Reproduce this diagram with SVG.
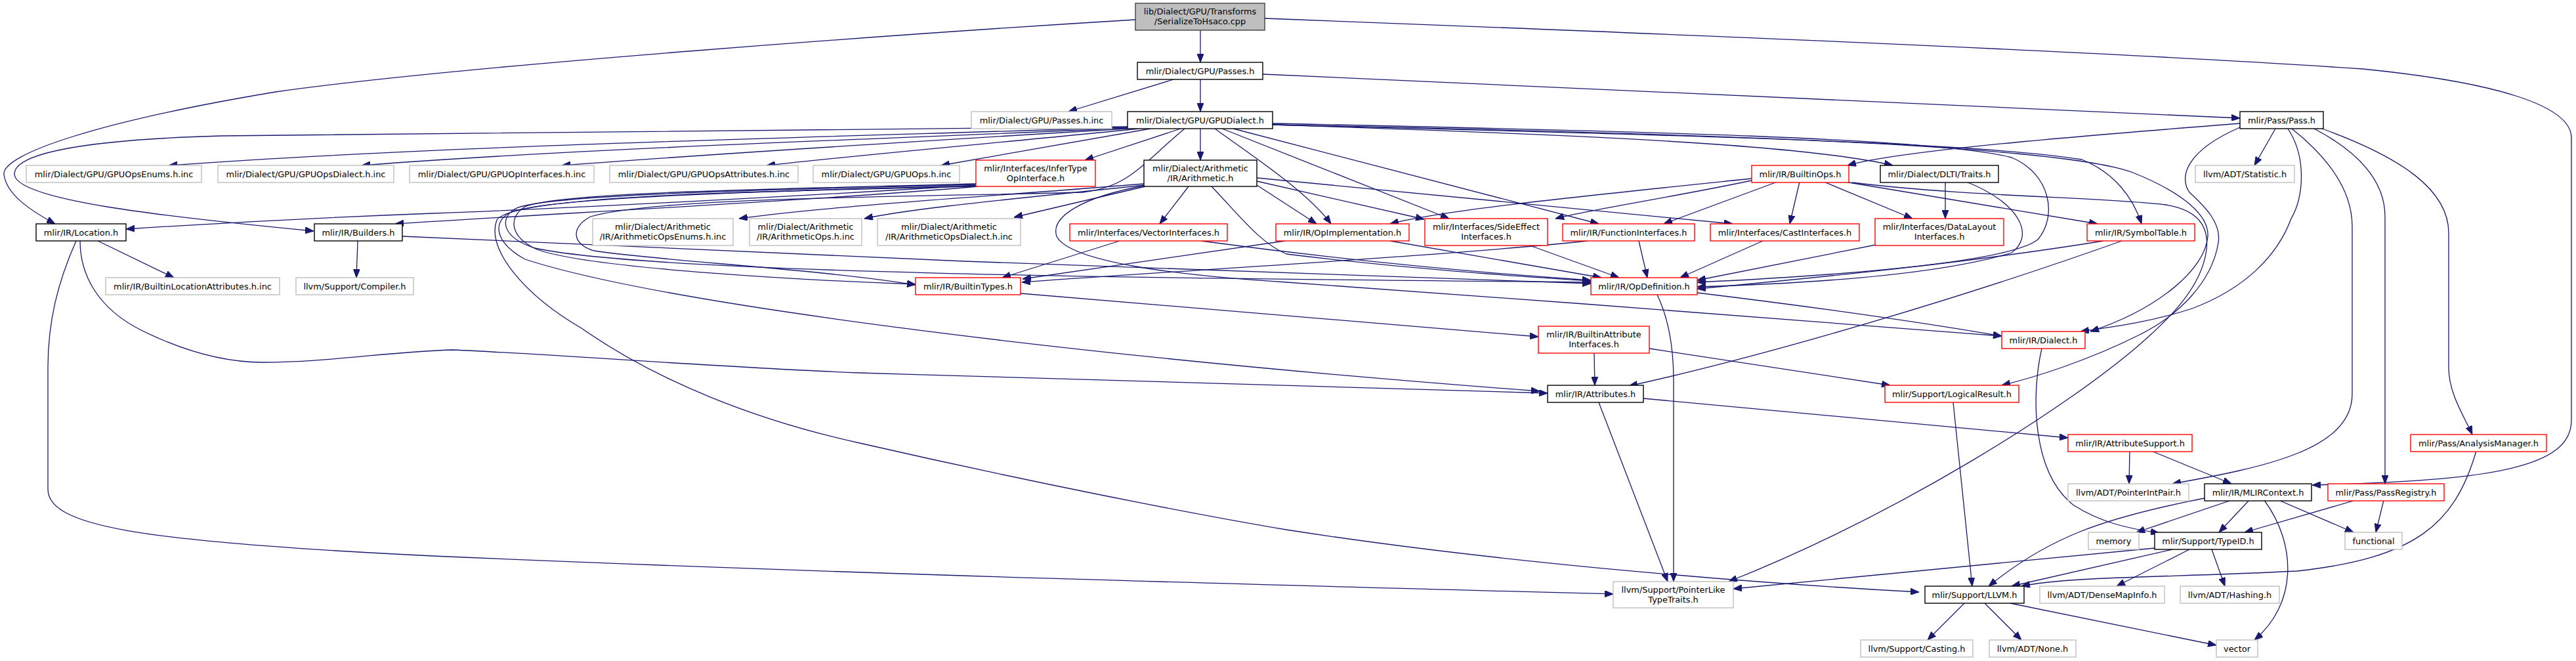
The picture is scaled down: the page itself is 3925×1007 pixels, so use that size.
<svg xmlns="http://www.w3.org/2000/svg" width="3925" height="1007" viewBox="0 0 3925 1007">
<style>
rect{fill:#fff;stroke-width:1.4}
.nb{stroke:#000}
.nr{stroke:#ff0000}
.ng{stroke:#bfbfbf}
.root{fill:#bfbfbf;stroke:#404040}
text{font-family:"DejaVu Sans","Liberation Sans",sans-serif;font-size:12.9px;fill:#000;text-anchor:middle}
.e path{fill:none;stroke:#191970;stroke-width:1.3;marker-end:url(#a)}
</style>
<defs>
<marker id="a" viewBox="0 0 13 10" refX="13" refY="5" markerWidth="13" markerHeight="10" markerUnits="userSpaceOnUse" orient="auto"><path d="M0,0 L13,5 L0,10 z" fill="#191970" stroke="#191970"/></marker>
</defs>
<rect x="0" y="0" width="3925" height="1007" style="fill:#fff;stroke:none"/>
<g class="e" id="connectors">
<path d="M1829,46 L1829,95"/>
<path d="M1730,30 C1400,50 700,100 420,140 C150,185 2,235 6,266 C10,296 45,320 84,341"/>
<path d="M1927,28 C2500,50 3200,78 3600,105 C3800,125 3918,160 3918,210 L3918,640 C3918,712 3800,732 3523,739"/>
<path d="M1788,121 L1628,170"/>
<path d="M1829,121 L1829,170"/>
<path d="M1924,113 L3413,180"/>
<path d="M1718,194 C1300,208 700,220 257,252"/>
<path d="M1718,195 C1350,212 900,225 551,252"/>
<path d="M1718,196 C1450,212 1150,230 856,252"/>
<path d="M1735,196 C1550,215 1350,232 1168,252"/>
<path d="M1753,196 L1434,252"/>
<path d="M1799,196 L1653,244"/>
<path d="M1829,196 L1829,244"/>
<path d="M1718,193 C1200,197 700,200 337,207 C120,213 22,235 22,265 C22,305 250,330 478,352"/>
<path d="M1939,190 C2400,205 2750,220 2884,252"/>
<path d="M1805,196 C1740,250 1720,285 1650,293 C1400,300 1000,300 900,330 C870,345 870,372 905,382 C1000,397 1250,410 1395,434"/>
<path d="M1939,190 C2700,205 3150,225 3250,263 C3330,295 3366,330 3364,360 C3360,410 3290,470 3185,505"/>
<path d="M1879,196 L2436,341"/>
<path d="M1939,188 C2500,200 2950,210 3065,240 C3125,265 3135,330 3105,365 C3060,400 2800,420 2586,430"/>
<path d="M1851,196 C1900,232 1990,290 2028,341"/>
<path d="M1939,190 C2500,205 3000,215 3172,243 C3220,262 3250,300 3263,341"/>
<path d="M1862,196 L2208,333"/>
<path d="M3413,188 C3200,205 2900,228 2815,252"/>
<path d="M3467,196 L3435,252"/>
<path d="M3486,196 C3515,240 3510,300 3491,333 C3470,390 3420,440 3340,470 C3280,490 3220,498 3170,505"/>
<path d="M3413,194 C3330,230 3320,270 3336,293 C3360,315 3385,340 3380,370 C3370,430 3320,480 3260,510 C3180,550 3100,575 3050,587"/>
<path d="M3492,196 C3560,250 3584,300 3584,345 L3584,600 C3584,685 3450,712 3310,737"/>
<path d="M3526,196 C3600,235 3634,280 3634,330 L3634,737"/>
<path d="M3538,196 C3660,240 3731,290 3731,355 L3731,560 C3731,600 3755,635 3767,662"/>
<path d="M2669,272 C2400,300 2200,320 2118,341"/>
<path d="M2669,275 C2550,300 2420,320 2370,333"/>
<path d="M2708,277 L2535,341"/>
<path d="M2742,277 L2727,341"/>
<path d="M2779,277 L2914,333"/>
<path d="M2811,277 L3196,341"/>
<path d="M2822,278 C3000,300 3200,300 3300,312 C3350,320 3366,345 3362,380 C3355,440 3300,490 3260,525 C3150,620 2900,780 2634,886"/>
<path d="M2964,277 L2964,333"/>
<path d="M2996,277 C3080,310 3100,360 3065,385 C2950,420 2750,432 2586,437"/>
<path d="M149,367 L265,423"/>
<path d="M116,367 C88,430 73,490 73,560 L73,745 C73,800 200,825 660,847 C1300,875 2000,893 2458,905"/>
<path d="M122,367 C122,420 150,470 215,503 C280,535 340,552 400,552 C500,552 600,535 690,533 C850,540 1100,560 1310,568 C1700,580 2100,592 2358,599"/>
<path d="M545,367 L543,423"/>
<path d="M613,360 C1100,385 2000,420 2424,432"/>
<path d="M1490,282 C1200,300 850,318 660,325 C450,333 300,342 192,349"/>
<path d="M1490,284 C1250,305 850,325 602,341"/>
<path d="M1487,280 C1200,288 850,292 800,315 C775,330 775,360 818,380 C900,410 1250,428 1395,433"/>
<path d="M1487,281 C1200,289 830,295 785,318 C760,333 765,362 815,378 C1000,418 1800,424 2424,430"/>
<path d="M1487,283 C1200,290 820,300 775,325 C750,340 755,370 800,395 C1000,460 1600,540 2346,596"/>
<path d="M1487,284 C1100,292 780,300 757,335 C740,380 800,450 886,500 C1000,580 1150,640 1310,675 C1550,730 1800,780 1960,807 C2300,860 2700,890 2924,902"/>
<path d="M1743,280 C1500,300 1250,315 1126,333"/>
<path d="M1743,282 C1600,298 1400,315 1317,333"/>
<path d="M1745,284 L1545,331"/>
<path d="M1811,284 L1767,341"/>
<path d="M1915,282 L2006,341"/>
<path d="M1915,276 L2170,334"/>
<path d="M1915,271 L2640,341"/>
<path d="M1846,284 C1890,330 1920,370 1960,387 C2150,410 2300,420 2424,428"/>
<path d="M1743,283 C1650,300 1600,330 1610,360 C1630,400 1800,420 1960,430 C2300,455 2800,490 3050,512"/>
<path d="M1706,367 L1527,423"/>
<path d="M1830,367 C2000,390 2200,412 2424,427"/>
<path d="M2118,367 L2440,423"/>
<path d="M1958,367 L1558,425"/>
<path d="M2331,374 L2467,423"/>
<path d="M2419,367 C2200,390 1800,412 1557,430"/>
<path d="M2497,367 L2510,423"/>
<path d="M2686,367 L2560,423"/>
<path d="M2863,372 L2586,427"/>
<path d="M3205,367 C3000,400 2800,420 2586,440"/>
<path d="M3233,367 C3000,450 2700,540 2482,588"/>
<path d="M1555,447 L2344,513"/>
<path d="M2429,538 L2430,587"/>
<path d="M2513,531 L2880,587"/>
<path d="M2525,449 C2540,480 2550,520 2550,580 L2550,886"/>
<path d="M2586,446 C2800,472 2950,495 3050,512"/>
<path d="M3111,531 C3095,600 3095,720 3160,770 C3200,795 3240,805 3290,812"/>
<path d="M2504,607 L3151,667"/>
<path d="M2436,613 L2541,886"/>
<path d="M2976,613 L3005,893"/>
<path d="M3245,687 L3244,737"/>
<path d="M3278,687 L3400,737"/>
<path d="M3773,687 C3740,800 3680,850 3500,870 C3300,880 3150,878 3080,893"/>
<path d="M3400,762 L3255,811"/>
<path d="M3427,762 L3381,811"/>
<path d="M3472,762 L3586,811"/>
<path d="M3450,762 C3500,830 3500,920 3435,975"/>
<path d="M3359,759 C3200,790 3120,820 3030,893"/>
<path d="M3589,762 L3420,811"/>
<path d="M3632,762 L3620,811"/>
<path d="M3310,837 L3065,893"/>
<path d="M3336,837 L3225,893"/>
<path d="M3370,837 L3390,893"/>
<path d="M3283,835 L2641,897"/>
<path d="M2994,918 L2937,975"/>
<path d="M3023,918 L3080,975"/>
<path d="M3063,919 L3377,983"/>
</g>
<g id="root"><rect class="root" x="1730" y="5" width="197" height="41"/><text x="1828.5" y="22">lib/Dialect/GPU/Transforms</text><text x="1828.5" y="37">/SerializeToHsaco.cpp</text></g>
<g id="gpupasses"><rect class="nb" x="1733" y="95" width="191" height="26"/><text x="1828.5" y="112.5">mlir/Dialect/GPU/Passes.h</text></g>
<g id="passesinc"><rect class="ng" x="1480" y="170" width="214" height="26"/><text x="1587" y="187.5">mlir/Dialect/GPU/Passes.h.inc</text></g>
<g id="gpudialect"><rect class="nb" x="1718" y="170" width="221" height="26"/><text x="1828.5" y="187.5">mlir/Dialect/GPU/GPUDialect.h</text></g>
<g id="pass"><rect class="nb" x="3413" y="170" width="127" height="26"/><text x="3476.5" y="187.5">mlir/Pass/Pass.h</text></g>
<g id="enums"><rect class="ng" x="40" y="252" width="267" height="26"/><text x="173.5" y="269.5">mlir/Dialect/GPU/GPUOpsEnums.h.inc</text></g>
<g id="opsdialect"><rect class="ng" x="332" y="252" width="268" height="26"/><text x="466" y="269.5">mlir/Dialect/GPU/GPUOpsDialect.h.inc</text></g>
<g id="opinterfaces"><rect class="ng" x="624" y="252" width="281" height="26"/><text x="764.5" y="269.5">mlir/Dialect/GPU/GPUOpInterfaces.h.inc</text></g>
<g id="opsattrs"><rect class="ng" x="929" y="252" width="287" height="26"/><text x="1072.5" y="269.5">mlir/Dialect/GPU/GPUOpsAttributes.h.inc</text></g>
<g id="gpuops"><rect class="ng" x="1239" y="252" width="223" height="26"/><text x="1350.5" y="269.5">mlir/Dialect/GPU/GPUOps.h.inc</text></g>
<g id="infer"><rect class="nr" x="1487" y="244" width="182" height="40"/><text x="1578" y="261">mlir/Interfaces/InferType</text><text x="1578" y="276">OpInterface.h</text></g>
<g id="arith"><rect class="nb" x="1743" y="244" width="172" height="40"/><text x="1829" y="261">mlir/Dialect/Arithmetic</text><text x="1829" y="276">/IR/Arithmetic.h</text></g>
<g id="builtinops"><rect class="nr" x="2669" y="252" width="148" height="26"/><text x="2743" y="269.5">mlir/IR/BuiltinOps.h</text></g>
<g id="dlti"><rect class="nb" x="2865" y="252" width="180" height="26"/><text x="2955" y="269.5">mlir/Dialect/DLTI/Traits.h</text></g>
<g id="statistic"><rect class="ng" x="3345" y="252" width="151" height="26"/><text x="3420.5" y="269.5">llvm/ADT/Statistic.h</text></g>
<g id="location"><rect class="nb" x="55" y="341" width="137" height="26"/><text x="123.5" y="358.5">mlir/IR/Location.h</text></g>
<g id="builders"><rect class="nb" x="479" y="341" width="134" height="26"/><text x="546" y="358.5">mlir/IR/Builders.h</text></g>
<g id="arithenums"><rect class="ng" x="903" y="333" width="214" height="41"/><text x="1010" y="350">mlir/Dialect/Arithmetic</text><text x="1010" y="365">/IR/ArithmeticOpsEnums.h.inc</text></g>
<g id="arithops"><rect class="ng" x="1142" y="333" width="171" height="41"/><text x="1227.5" y="350">mlir/Dialect/Arithmetic</text><text x="1227.5" y="365">/IR/ArithmeticOps.h.inc</text></g>
<g id="arithdialect"><rect class="ng" x="1337" y="333" width="218" height="41"/><text x="1446" y="350">mlir/Dialect/Arithmetic</text><text x="1446" y="365">/IR/ArithmeticOpsDialect.h.inc</text></g>
<g id="vectorif"><rect class="nr" x="1630" y="341" width="240" height="26"/><text x="1750" y="358.5">mlir/Interfaces/VectorInterfaces.h</text></g>
<g id="opimpl"><rect class="nr" x="1944" y="341" width="203" height="26"/><text x="2045.5" y="358.5">mlir/IR/OpImplementation.h</text></g>
<g id="sideeffect"><rect class="nr" x="2171" y="333" width="187" height="41"/><text x="2264.5" y="350">mlir/Interfaces/SideEffect</text><text x="2264.5" y="365">Interfaces.h</text></g>
<g id="funcif"><rect class="nr" x="2381" y="341" width="201" height="26"/><text x="2481.5" y="358.5">mlir/IR/FunctionInterfaces.h</text></g>
<g id="cast"><rect class="nr" x="2606" y="341" width="227" height="26"/><text x="2719.5" y="358.5">mlir/Interfaces/CastInterfaces.h</text></g>
<g id="datalayout"><rect class="nr" x="2857" y="333" width="196" height="41"/><text x="2955" y="350">mlir/Interfaces/DataLayout</text><text x="2955" y="365">Interfaces.h</text></g>
<g id="symtab"><rect class="nr" x="3180" y="341" width="164" height="26"/><text x="3262" y="358.5">mlir/IR/SymbolTable.h</text></g>
<g id="locattrs"><rect class="ng" x="161" y="423" width="265" height="26"/><text x="293.5" y="440.5">mlir/IR/BuiltinLocationAttributes.h.inc</text></g>
<g id="compiler"><rect class="ng" x="451" y="423" width="179" height="26"/><text x="540.5" y="440.5">llvm/Support/Compiler.h</text></g>
<g id="builtintypes"><rect class="nr" x="1395" y="423" width="160" height="26"/><text x="1475" y="440.5">mlir/IR/BuiltinTypes.h</text></g>
<g id="opdef"><rect class="nr" x="2424" y="423" width="162" height="26"/><text x="2505" y="440.5">mlir/IR/OpDefinition.h</text></g>
<g id="battrif"><rect class="nr" x="2344" y="497" width="169" height="41"/><text x="2428.5" y="514">mlir/IR/BuiltinAttribute</text><text x="2428.5" y="529">Interfaces.h</text></g>
<g id="dialect"><rect class="nr" x="3050" y="505" width="127" height="26"/><text x="3113.5" y="522.5">mlir/IR/Dialect.h</text></g>
<g id="attributes"><rect class="nb" x="2358" y="587" width="146" height="26"/><text x="2431" y="604.5">mlir/IR/Attributes.h</text></g>
<g id="logical"><rect class="nr" x="2872" y="587" width="204" height="26"/><text x="2974" y="604.5">mlir/Support/LogicalResult.h</text></g>
<g id="attrsupport"><rect class="nr" x="3151" y="662" width="189" height="26"/><text x="3245.5" y="679.5">mlir/IR/AttributeSupport.h</text></g>
<g id="analysis"><rect class="nr" x="3673" y="662" width="207" height="26"/><text x="3776.5" y="679.5">mlir/Pass/AnalysisManager.h</text></g>
<g id="pip"><rect class="ng" x="3151" y="737" width="184" height="26"/><text x="3243" y="754.5">llvm/ADT/PointerIntPair.h</text></g>
<g id="mlirctx"><rect class="nb" x="3359" y="737" width="163" height="26"/><text x="3440.5" y="754.5">mlir/IR/MLIRContext.h</text></g>
<g id="passreg"><rect class="nr" x="3547" y="737" width="177" height="26"/><text x="3635.5" y="754.5">mlir/Pass/PassRegistry.h</text></g>
<g id="memory"><rect class="ng" x="3182" y="811" width="77" height="26"/><text x="3220.5" y="828.5">memory</text></g>
<g id="typeid"><rect class="nb" x="3283" y="811" width="163" height="26"/><text x="3364.5" y="828.5">mlir/Support/TypeID.h</text></g>
<g id="functional"><rect class="ng" x="3573" y="811" width="87" height="26"/><text x="3616.5" y="828.5">functional</text></g>
<g id="plt"><rect class="ng" x="2458" y="886" width="183" height="40"/><text x="2549.5" y="903">llvm/Support/PointerLike</text><text x="2549.5" y="918">TypeTraits.h</text></g>
<g id="llvm"><rect class="nb" x="2933" y="893" width="151" height="26"/><text x="3008.5" y="910.5">mlir/Support/LLVM.h</text></g>
<g id="densemap"><rect class="ng" x="3108" y="893" width="190" height="26"/><text x="3203" y="910.5">llvm/ADT/DenseMapInfo.h</text></g>
<g id="hashing"><rect class="ng" x="3322" y="893" width="151" height="26"/><text x="3397.5" y="910.5">llvm/ADT/Hashing.h</text></g>
<g id="casting"><rect class="ng" x="2835" y="975" width="171" height="26"/><text x="2920.5" y="992.5">llvm/Support/Casting.h</text></g>
<g id="none"><rect class="ng" x="3031" y="975" width="132" height="26"/><text x="3097" y="992.5">llvm/ADT/None.h</text></g>
<g id="vectorstd"><rect class="ng" x="3377" y="975" width="63" height="26"/><text x="3408.5" y="992.5">vector</text></g>
</svg>
